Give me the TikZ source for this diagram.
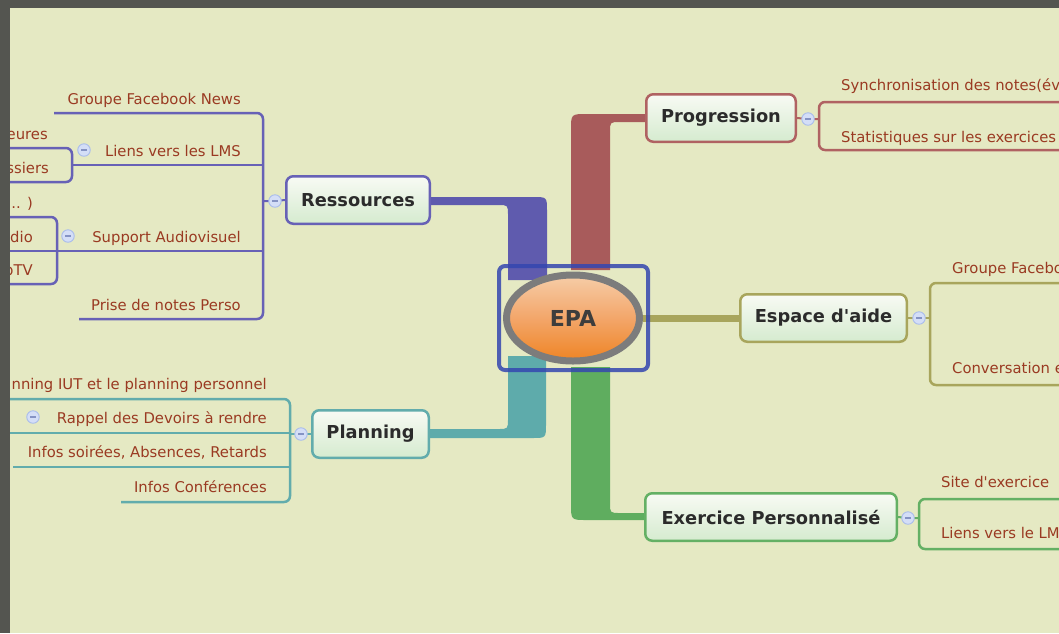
\documentclass[tikz,border=0pt]{standalone}
\usepackage{fontspec}
\setmainfont{DejaVu Sans}
\usetikzlibrary{shapes.geometric}
\definecolor{frameC}{HTML}{545550}
\definecolor{bgC}{HTML}{E5E9C3}
\definecolor{purpB}{HTML}{5F5BAE}
\definecolor{purpL}{HTML}{6761B6}
\definecolor{redB}{HTML}{A85B5B}
\definecolor{redL}{HTML}{B06262}
\definecolor{tealB}{HTML}{5EABAB}
\definecolor{tealL}{HTML}{62ACAC}
\definecolor{greenB}{HTML}{5FAD5F}
\definecolor{greenL}{HTML}{64B064}
\definecolor{oliveB}{HTML}{A8A55C}
\definecolor{blueF}{HTML}{3446B0}
\definecolor{leafT}{HTML}{9A3A22}
\definecolor{nodeT}{HTML}{2B2B2B}
\definecolor{epaT}{HTML}{3D3D3D}
\definecolor{ringC}{HTML}{7C7C7C}
\definecolor{epaTop}{HTML}{F6CDA8}
\definecolor{epaMid}{HTML}{F3A66A}
\definecolor{epaBot}{HTML}{EE8424}
\definecolor{topTop}{HTML}{F8FAF4}
\definecolor{topBot}{HTML}{D5EBCF}
\definecolor{knobF}{HTML}{D4DEF7}
\definecolor{knobD}{HTML}{A9BCEB}
\definecolor{knobM}{HTML}{8593C4}
\tikzset{
  topic/.style={draw, line width=2.5pt, rounded corners=7pt, top color=topTop, bottom color=topBot,
    text=nodeT, font=\bfseries\fontsize{17.8}{20}\selectfont, minimum height=47.5pt, inner sep=0pt},
  leaf/.style={text=leafT, font=\fontsize{14.8}{17}\selectfont, inner sep=0pt},
  knob/.style={circle, minimum size=12.5pt, inner sep=0pt, fill=knobF, draw=knobD, line width=0.9pt,
    path picture={\draw[knobM, line width=1.1pt] ([xshift=-3pt]path picture bounding box.center) -- ([xshift=3pt]path picture bounding box.center);}},
  brk/.style={line width=2.5pt, rounded corners=6pt},
}
\begin{document}
\begin{tikzpicture}[x=1pt,y=-1pt]
\clip (0,0) rectangle (1059,633);
\fill[bgC] (0,0) rectangle (1059,633);

% ---- thick branch bands
\fill[purpB] (430,197) -- (533,197) .. controls (547,197) .. (547,211) -- (547,280) -- (508,280)
  -- (508,215) .. controls (508,205) .. (498,205) -- (430,205) -- cycle;
\fill[redB] (571,270) -- (571,130) .. controls (571,114) .. (587,114) -- (645,114) -- (645,122)
  -- (620,122) .. controls (610,122) .. (610,132) -- (610,270) -- cycle;
\fill[tealB] (508,356) -- (546,356) -- (546,424) .. controls (546,438) .. (532,438) -- (430,438)
  -- (430,429) -- (498,429) .. controls (508,429) .. (508,419) -- cycle;
\fill[greenB] (571,367) -- (610,367) -- (610,503) .. controls (610,513) .. (620,513) -- (645,513)
  -- (645,520) -- (587,520) .. controls (571,520) .. (571,504) -- cycle;

% ---- central topic
\node[ellipse, draw=ringC, line width=7pt, minimum width=133pt, minimum height=86pt,
  top color=epaTop, bottom color=epaBot, middle color=epaMid,
  text=epaT, font=\bfseries\fontsize{22}{24}\selectfont] (epa) at (573,318) {EPA};

% ---- main topics
\node[topic, draw=purpL, minimum width=143.5pt] (res) at (358,200) {Ressources};
\node[topic, draw=redL, minimum width=149.5pt] (prog) at (721,118) {Progression};
\node[topic, draw=oliveB, minimum width=166.5pt] (esp) at (823.5,318) {Espace d\textquotesingle aide};
\node[topic, draw=greenL, minimum width=251.5pt] (exo) at (771,517) {Exercice Personnalisé};
\node[topic, draw=tealL, minimum width=116.5pt] (plan) at (370.5,434) {Planning};

\draw[oliveB, line width=7pt] (epa.east) -- (esp.west);

% ---- knob positions
\coordinate (kres) at (275,201);
\coordinate (kprog) at (808,119);
\coordinate (kesp) at (919,318);
\coordinate (kexo) at (908,518);
\coordinate (kplan) at (301,434);
\coordinate (klms) at (84,150);
\coordinate (kaud) at (68,236);
\coordinate (krap) at (33,417);

% ---- Ressources subtree
\coordinate (bres) at (263,201);
\draw[purpL, line width=2pt] (res.west) -- (kres) -- (bres);
\draw[purpL, brk] (54,113) -- (263,113) -- (263,319) -- (79,319);
\draw[purpL, line width=2.5pt] (72,165) -- (263,165);
\draw[purpL, line width=2.5pt] (0,251) -- (263,251);
\draw[purpL, brk] (0,148) -- (72,148) -- (72,182) -- (0,182);
\draw[purpL, brk] (0,217) -- (57,217) -- (57,284) -- (0,284);
\node[leaf, anchor=base east] (t1) at (241,104) {Groupe Facebook News};
\node[leaf, anchor=base east] (t2) at (241,156) {Liens vers les LMS};
\node[leaf, anchor=base east] (t3) at (241,242) {Support Audiovisuel};
\node[leaf, anchor=base east] (t4) at (241,310) {Prise de notes Perso};
\node[leaf, anchor=base east] (t5) at (48,139) {eures};
\node[leaf, anchor=base east] (t6) at (49,173) {ssiers};
\node[leaf, anchor=base east] (t7) at (33,208) {... )};
\node[leaf, anchor=base east] (t8) at (33,242) {dio};
\node[leaf, anchor=base east] (t9) at (33,275) {bTV};

% ---- Planning subtree
\coordinate (bplan) at (290,434);
\draw[tealL, line width=2pt] (plan.west) -- (kplan) -- (bplan);
\draw[tealL, brk] (0,399) -- (290,399) -- (290,502) -- (121,502);
\draw[tealL, line width=2.5pt] (0,433) -- (290,433);
\draw[tealL, line width=2.5pt] (13,467) -- (290,467);
\node[leaf, anchor=base east] (p1) at (267,389) {nning IUT et le planning personnel};
\node[leaf, anchor=base east] (p2) at (267,423) {Rappel des Devoirs à rendre};
\node[leaf, anchor=base east] (p3) at (267,457) {Infos soirées, Absences, Retards};
\node[leaf, anchor=base east] (p4) at (267,492) {Infos Conférences};

% ---- Progression subtree
\coordinate (bprog) at (819,119);
\draw[redL, line width=2pt] (prog.east) -- (kprog) -- (bprog);
\draw[redL, brk] (1070,102) -- (819,102) -- (819,150) -- (1070,150);
\node[leaf, anchor=base west] (r1) at (841,90) {Synchronisation des notes(év};
\node[leaf, anchor=base west] (r2) at (841,142) {Statistiques sur les exercices};

% ---- Espace d'aide subtree
\coordinate (besp) at (930,318);
\draw[oliveB, line width=2pt] (esp.east) -- (kesp) -- (besp);
\draw[oliveB, brk] (1070,283) -- (930,283) -- (930,385) -- (1070,385);
\node[leaf, anchor=base west] (e1) at (952,273) {Groupe Facebo};
\node[leaf, anchor=base west] (e2) at (952,373) {Conversation e};

% ---- Exercice subtree
\coordinate (bexo) at (919,518);
\draw[greenL, line width=2pt] (exo.east) -- (kexo) -- (bexo);
\draw[greenL, brk] (1070,499) -- (919,499) -- (919,549) -- (1070,549);
\node[leaf, anchor=base west] (x1) at (941,487) {Site d\textquotesingle exercice};
\node[leaf, anchor=base west] (x2) at (941,538) {Liens vers le LM};

% ---- knobs (collapse buttons)
\node[knob] (kresN) at (kres) {};
\node[knob] (kprogN) at (kprog) {};
\node[knob] (kespN) at (kesp) {};
\node[knob] (kexoN) at (kexo) {};
\node[knob] (kplanN) at (kplan) {};
\node[knob] (klmsN) at (klms) {};
\node[knob] (kaudN) at (kaud) {};
\node[knob] (krapN) at (krap) {};

% ---- selection frame around the central topic
\draw[blueF, opacity=0.85, line width=4pt, rounded corners=6pt] (499,266) rectangle (648,370);

% ---- window border
\fill[frameC] (0,0) rectangle (10,633);
\fill[frameC] (0,0) rectangle (1059,8);
\end{tikzpicture}
\end{document}
